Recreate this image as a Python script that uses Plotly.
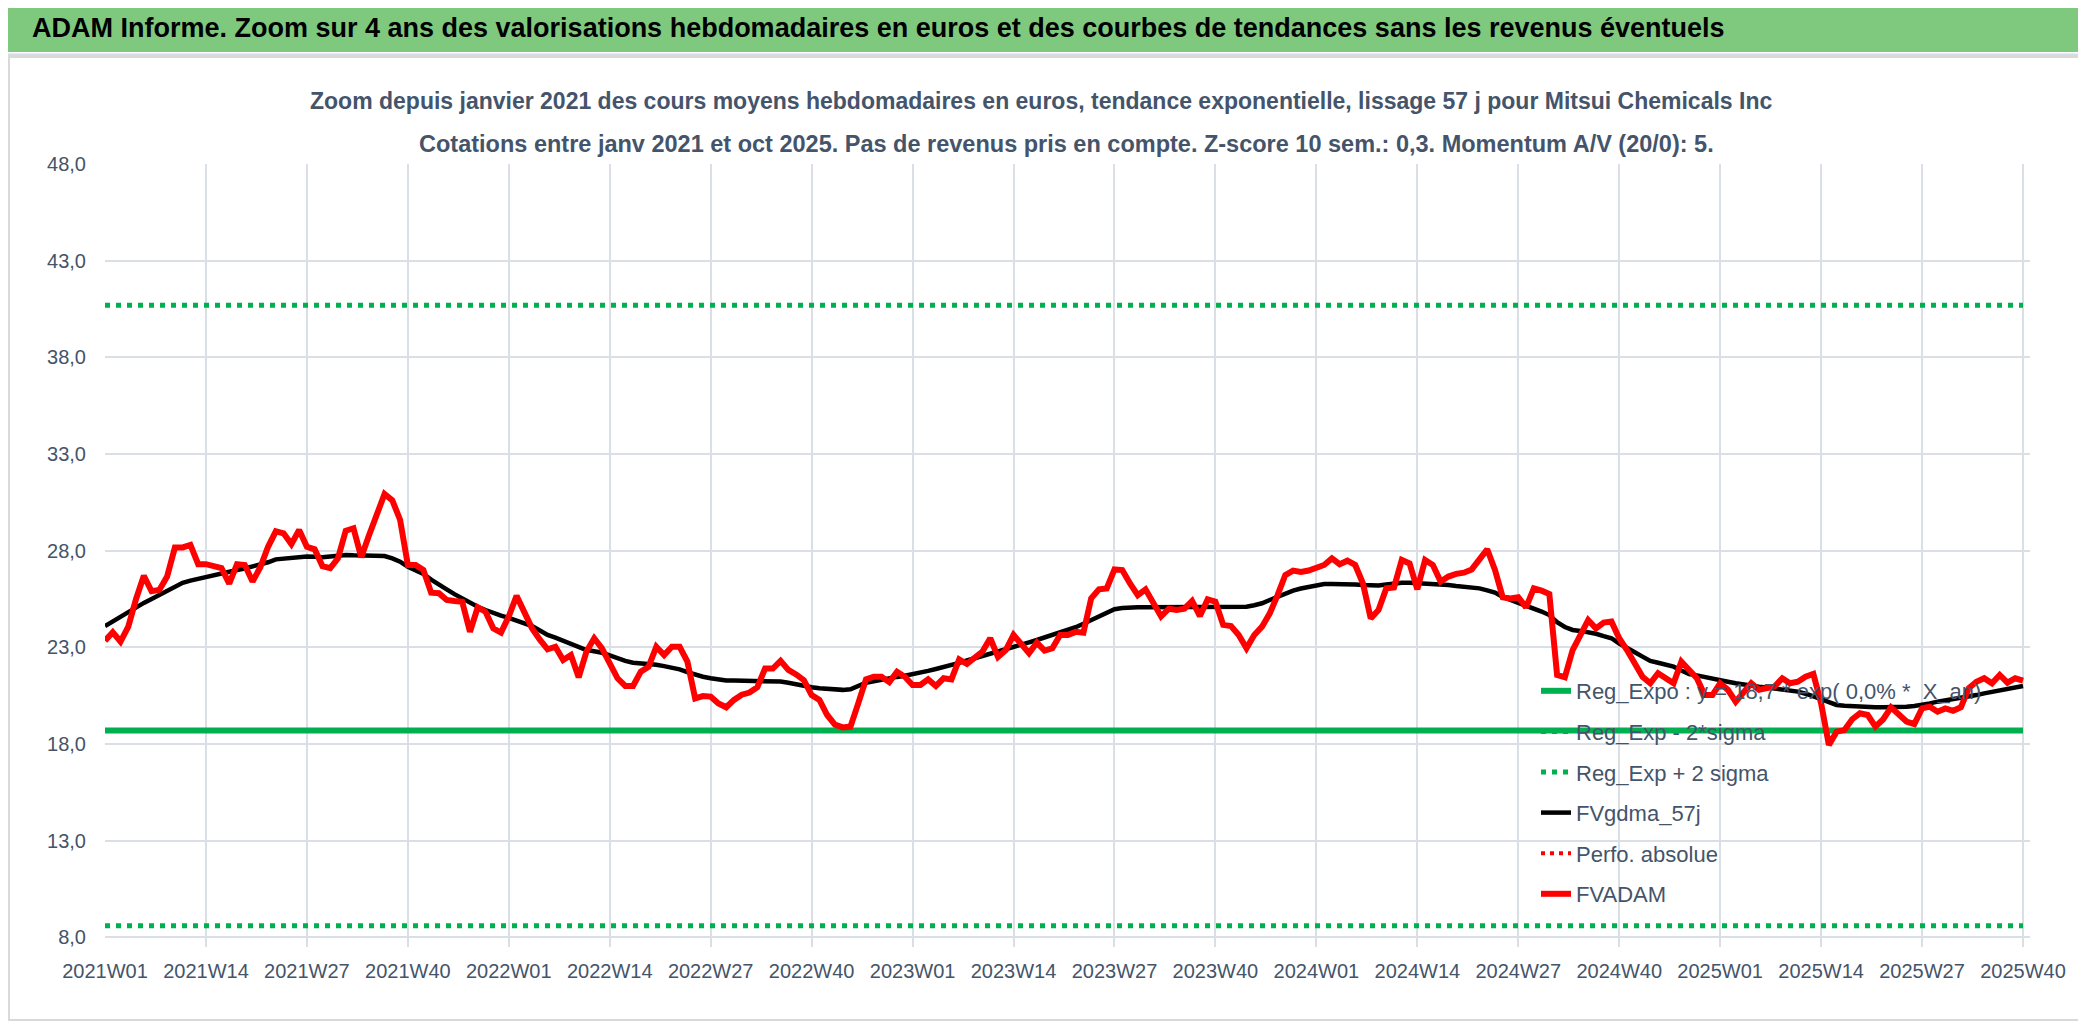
import plotly.graph_objects as go

# ---------------- data ----------------
WEEKS = [f"{y}W{w:02d}" for y in (2021, 2022, 2023, 2024) for w in range(1, 53)] + \
        [f"2025W{w:02d}" for w in range(1, 41)]

FVADAM = [
    23.34, 23.78, 23.3, 24.07, 25.5, 26.7, 25.9, 25.97, 26.66, 28.17,
    28.17, 28.3, 27.3, 27.3, 27.2, 27.1, 26.3, 27.3, 27.26, 26.4,
    27.14, 28.2, 29.0, 28.9, 28.34, 29.07, 28.2, 28.07, 27.2, 27.1,
    27.6, 29.03, 29.16, 27.66, 28.8, 29.93, 30.93, 30.6, 29.6, 27.26,
    27.26, 27.0, 25.83, 25.8, 25.45, 25.4, 25.36, 23.8, 25.07, 24.84,
    23.98, 23.76, 24.6, 25.66, 24.84, 23.98, 23.4, 22.9, 23.03, 22.34,
    22.6, 21.45, 22.78, 23.47, 22.95, 22.17, 21.4, 21.0, 21.0, 21.74,
    22.0, 23.03, 22.6, 23.03, 23.03, 22.26, 20.36, 20.48, 20.45, 20.1,
    19.9, 20.28, 20.55, 20.66, 20.93, 21.9, 21.9, 22.3, 21.83, 21.6,
    21.3, 20.53, 20.28, 19.5, 19.0, 18.86, 18.9, 20.1, 21.34, 21.48,
    21.48, 21.2, 21.74, 21.48, 21.05, 21.05, 21.34, 21.0, 21.4, 21.34,
    22.38, 22.14, 22.5, 22.78, 23.47, 22.5, 22.86, 23.64, 23.17, 22.7,
    23.24, 22.83, 22.95, 23.64, 23.64, 23.8, 23.76, 25.53, 26.0, 26.05,
    27.03, 27.0, 26.3, 25.7, 26.0, 25.36, 24.6, 25.0, 24.93, 25.0,
    25.4, 24.62, 25.48, 25.36, 24.16, 24.1, 23.64, 22.95, 23.64, 24.07,
    24.76, 25.7, 26.74, 26.97, 26.9, 26.97, 27.1, 27.26, 27.6, 27.3,
    27.48, 27.26, 26.3, 24.5, 24.93, 26.05, 26.1, 27.52, 27.34, 26.0,
    27.52, 27.26, 26.4, 26.66, 26.8, 26.86, 27.03, 27.6, 28.07, 27.0,
    25.59, 25.53, 25.59, 25.07, 26.05, 25.93, 25.76, 21.57, 21.45, 22.86,
    23.64, 24.41, 23.98, 24.28, 24.33, 23.47, 22.86, 22.09, 21.48, 21.14,
    21.66, 21.4, 21.14, 22.26, 21.83, 21.4, 20.53, 20.53, 21.14, 20.8,
    20.19, 20.71, 21.14, 20.8, 20.88, 20.97, 21.4, 21.14, 21.22, 21.48,
    21.62, 20.1, 17.95, 18.64, 18.72, 19.28, 19.59, 19.5, 18.9, 19.28,
    19.9, 19.5, 19.16, 19.03, 19.84, 19.93, 19.67, 19.84, 19.72, 19.9,
    20.88, 21.22, 21.4, 21.14, 21.57, 21.17, 21.4, 21.28,
]

FVGDMA_57J = [
    24.1, 24.35, 24.6, 24.85, 25.1, 25.3, 25.5, 25.7, 25.9, 26.1,
    26.34, 26.45, 26.55, 26.66, 26.75, 26.83, 26.92, 27.0, 27.08, 27.17,
    27.26, 27.4, 27.55, 27.6, 27.65, 27.7, 27.7, 27.68, 27.66, 27.7,
    27.74, 27.78, 27.76, 27.74, 27.72, 27.72, 27.72, 27.6, 27.43, 27.17,
    27.0, 26.8, 26.5, 26.22, 26.0, 25.75, 25.53, 25.3, 25.1, 24.93,
    24.76, 24.64, 24.52, 24.4, 24.25, 24.1, 23.87, 23.64, 23.5, 23.35,
    23.2, 23.03, 22.86, 22.8, 22.72, 22.58, 22.43, 22.3, 22.2, 22.18,
    22.17, 22.1, 22.03, 21.95, 21.86, 21.72, 21.57, 21.48, 21.4, 21.34,
    21.28, 21.28, 21.28, 21.28, 21.28, 21.28, 21.28, 21.23, 21.17, 21.08,
    21.0, 20.94, 20.88, 20.84, 20.8, 20.8, 20.83, 21.0, 21.17, 21.25,
    21.34, 21.4, 21.47, 21.53, 21.6, 21.7, 21.78, 21.88, 21.97, 22.08,
    22.2, 22.32, 22.43, 22.55, 22.67, 22.78, 22.9, 23.02, 23.14, 23.26,
    23.38, 23.5, 23.62, 23.74, 23.86, 24.04, 24.22, 24.4, 24.6, 24.8,
    24.97, 25.03, 25.07, 25.07, 25.07, 25.07, 25.07, 25.08, 25.08, 25.09,
    25.1, 25.1, 25.1, 25.1, 25.1, 25.1, 25.1, 25.1, 25.18, 25.28,
    25.45, 25.62, 25.78, 25.93, 26.04, 26.14, 26.22, 26.28, 26.28, 26.28,
    26.28, 26.25, 26.22, 26.2, 26.2, 26.25, 26.3, 26.34, 26.34, 26.32,
    26.3, 26.3, 26.26, 26.22, 26.17, 26.13, 26.09, 26.05, 25.95, 25.83,
    25.6, 25.45, 25.32, 25.2, 25.02, 24.85, 24.67, 24.3, 24.05, 23.9,
    23.85, 23.8, 23.7, 23.58, 23.47, 23.2, 22.95, 22.75, 22.52, 22.3,
    22.2, 22.1, 22.0, 21.8, 21.62, 21.55, 21.48, 21.4, 21.3, 21.22,
    21.14, 21.07, 21.0, 20.96, 20.92, 20.88, 20.82, 20.77, 20.71, 20.6,
    20.48, 20.32, 20.17, 20.02, 19.98, 19.95, 19.93, 19.92, 19.9, 19.9,
    19.9, 19.9, 19.93, 19.97, 20.02, 20.1, 20.19, 20.25, 20.3, 20.36,
    20.45, 20.53, 20.62, 20.7, 20.8, 20.87, 20.93, 21.0,
]

REG_EXPO = 18.7
REG_MINUS_2SIGMA = 8.6
REG_PLUS_2SIGMA = 40.7

Y_TICKS = [8, 13, 18, 23, 28, 33, 38, 43, 48]
Y_TICK_LABELS = ["8,0", "13,0", "18,0", "23,0", "28,0", "33,0", "38,0", "43,0", "48,0"]
X_TICK_LABELS = WEEKS[::13]

TITLE = ("ADAM Informe. Zoom sur 4 ans des valorisations hebdomadaires en euros "
         "et des courbes de tendances sans les revenus éventuels")
SUB1 = ("Zoom depuis janvier 2021 des cours moyens hebdomadaires en euros, tendance "
        "exponentielle, lissage 57 j pour Mitsui Chemicals Inc")
SUB2 = ("Cotations entre janv 2021 et oct 2025. Pas de revenus pris en compte. "
        "Z-score 10 sem.: 0,3. Momentum A/V (20/0): 5.")

# ---------------- layout helpers ----------------
OFF = 8                      # page body margin of the html page
W, H = 2086 - OFF, 1031 - 2 * OFF
L, T = 105 - OFF, 164 - OFF  # plot area: screen x 105..2030, screen y 164..947
R = W - (2030 - OFF)
B = H - (947 - OFF)
PW, PH = W - L - R, H - T - B

def px(x):
    """screen x -> paper x"""
    return (x - OFF - L) / PW

def py(y):
    """screen y -> paper y"""
    return (H - B - (y - OFF)) / PH

FONT = "Liberation Sans, Arial, sans-serif"
TXT = "#44546A"
GREEN = "#00B050"
GRID = "#DADEE5"

fig = go.Figure()
n = len(WEEKS)
fig.add_trace(go.Scatter(x=WEEKS, y=[REG_EXPO] * n, mode="lines",
                         name="Reg_Expo : y = 18,7 * exp( 0,0% *  X_an)",
                         legendgroup="a", line=dict(color=GREEN, width=6)))
fig.add_trace(go.Scatter(x=WEEKS, y=[REG_MINUS_2SIGMA] * n, mode="lines",
                         name="Reg_Exp - 2*sigma", legendgroup="b",
                         line=dict(color=GREEN, width=5, dash="5px,6px")))
fig.add_trace(go.Scatter(x=WEEKS, y=[REG_PLUS_2SIGMA] * n, mode="lines",
                         name="Reg_Exp + 2 sigma", legendgroup="c",
                         line=dict(color=GREEN, width=5, dash="5px,6px")))
fig.add_trace(go.Scatter(x=WEEKS, y=FVGDMA_57J, mode="lines", name="FVgdma_57j",
                         legendgroup="d", line=dict(color="#000000", width=4.5)))
fig.add_trace(go.Scatter(x=[None], y=[None], mode="lines", name="Perfo. absolue",
                         legendgroup="e",
                         line=dict(color="#FF0000", width=4, dash="4px,5px")))
fig.add_trace(go.Scatter(x=WEEKS, y=FVADAM, mode="lines", name="FVADAM",
                         legendgroup="f", line=dict(color="#FF0000", width=6)))

shapes = [
    # title band
    dict(type="rect", xref="paper", yref="paper", x0=px(0), x1=px(2086), y0=py(52), y1=py(0),
         fillcolor="#7EC97E", line=dict(width=0), layer="below"),
    dict(type="line", xref="paper", yref="paper", x0=px(0), x1=px(2086), y0=py(55), y1=py(55),
         line=dict(color="#D6DCE4", width=3)),
    # chart frame
    dict(type="rect", xref="paper", yref="paper", x0=px(9), x1=px(2080), y0=py(1020), y1=py(57),
         line=dict(color="#D9D9D9", width=2), fillcolor="rgba(0,0,0,0)"),
]

annotations = [
    dict(text=f"<b>{TITLE}</b>", xref="paper", yref="paper", x=px(30), y=py(28),
         xanchor="left", yanchor="middle", showarrow=False,
         font=dict(family=FONT, size=27, color="#000000")),
    dict(text=f"<b>{SUB1}</b>", xref="paper", yref="paper", x=px(1041), y=py(101),
         xanchor="center", yanchor="middle", showarrow=False,
         font=dict(family=FONT, size=23, color=TXT)),
    dict(text=f"<b>{SUB2}</b>", xref="paper", yref="paper", x=px(1066), y=py(144),
         xanchor="center", yanchor="middle", showarrow=False,
         font=dict(family=FONT, size=23.5, color=TXT)),
]

fig.update_layout(
    width=W, height=H,
    margin=dict(l=L, r=R, t=T, b=B, pad=0),
    paper_bgcolor="#FFFFFF", plot_bgcolor="#FFFFFF",
    font=dict(family=FONT, color=TXT),
    shapes=shapes, annotations=annotations,
    showlegend=True,
    legend=dict(x=px(1536), y=py(670), xanchor="left", yanchor="top",
                bgcolor="rgba(0,0,0,0)", borderwidth=0,
                font=dict(family=FONT, size=22, color=TXT),
                traceorder="grouped", tracegroupgap=9),
    xaxis=dict(type="category", range=[0, 247.9], tickmode="array",
               tickvals=X_TICK_LABELS, ticktext=X_TICK_LABELS, tickangle=0,
               showgrid=True, gridcolor=GRID, gridwidth=2, zeroline=False,
               showline=False, ticks="", ticklabelstandoff=10,
               tickfont=dict(family=FONT, size=20, color=TXT)),
    yaxis=dict(range=[7.5, 48], tickmode="array", tickvals=Y_TICKS, ticktext=Y_TICK_LABELS,
               showgrid=True, gridcolor=GRID, gridwidth=2, zeroline=False,
               showline=False, ticks="", ticklabelstandoff=18,
               tickfont=dict(family=FONT, size=20, color=TXT)),
)

fig.write_html("out.html")
